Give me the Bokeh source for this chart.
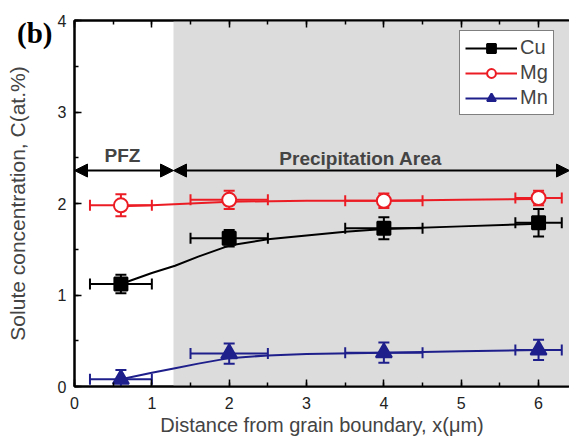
from bokeh.plotting import figure
from bokeh.models import (ColumnDataSource, Whisker, TeeHead, BoxAnnotation, Arrow,
                          NormalHead, Label, LinearAxis, SingleIntervalTicker, Legend,
                          LegendItem, Range1d, Div)
from bokeh.layouts import column
from bokeh.embed import file_html
from bokeh.resources import INLINE

# ---- data ----
x_pos = [0.6, 2.0, 4.0, 6.0]
x_err = [0.4, 0.5, 0.5, 0.3]
cu_y = [1.12, 1.62, 1.73, 1.79]
cu_err = [0.10, 0.09, 0.12, 0.15]
mg_y = [1.98, 2.04, 2.03, 2.06]
mg_err = [0.12, 0.10, 0.08, 0.08]
mn_y = [0.08, 0.36, 0.37, 0.40]
mn_err = [0.10, 0.11, 0.11, 0.11]

cu_fit_x = [0.6, 0.8, 1.0, 1.3, 1.6, 2.0, 2.5, 3.0, 3.5, 4.0, 5.0, 6.0]
cu_fit_y = [1.12, 1.18, 1.24, 1.32, 1.42, 1.54, 1.61, 1.65, 1.69, 1.72, 1.75, 1.78]
mg_fit_x = [0.6, 1.0, 1.5, 2.0, 3.0, 4.0, 5.0, 6.0]
mg_fit_y = [1.97, 1.98, 2.00, 2.02, 2.03, 2.03, 2.04, 2.05]
mn_fit_x = [0.6, 1.0, 1.3, 1.6, 2.0, 2.5, 3.0, 4.0, 5.0, 6.0]
mn_fit_y = [0.08, 0.15, 0.20, 0.25, 0.31, 0.34, 0.355, 0.37, 0.385, 0.40]

pfz_end = 1.28
x_max = 6.4
arrow_y = 2.36

FONT = "Liberation Sans"
BLACK = "#000000"
RED = "#ec1c24"
BLUE = "#1f1f8c"

p = figure(width=569, height=441, output_backend="svg", toolbar_location=None,
           x_range=Range1d(0, x_max), y_range=Range1d(0, 4),
           min_border_left=74, min_border_right=0, min_border_top=20,
           min_border_bottom=55, x_axis_location=None, y_axis_location=None)
p.grid.visible = False
p.outline_line_color = BLACK
p.outline_line_width = 2
p.background_fill_color = "white"

def style_axis(ax, labels=True):
    ax.axis_line_width = 2
    ax.axis_line_color = BLACK
    ax.major_tick_in = 7
    ax.major_tick_out = 0
    ax.minor_tick_in = 4
    ax.minor_tick_out = 0
    ax.major_tick_line_width = 1.5
    ax.minor_tick_line_width = 1.5
    ax.major_label_text_font = FONT
    ax.major_label_text_font_size = "16px"
    ax.major_label_text_color = "#222222"
    ax.axis_label_text_font = FONT
    ax.axis_label_text_font_style = "normal"
    ax.axis_label_text_font_size = "20px"
    if not labels:
        ax.major_label_text_font_size = "0px"
        ax.major_label_text_alpha = 0
        ax.major_label_standoff = 0

xb = LinearAxis(ticker=SingleIntervalTicker(interval=1, num_minor_ticks=2),
                axis_label="Distance from grain boundary, x(\u03bcm)")
style_axis(xb)
xb.major_label_standoff = 10
xb.axis_label_standoff = 2
p.add_layout(xb, "below")

xa = LinearAxis(ticker=SingleIntervalTicker(interval=1, num_minor_ticks=2))
style_axis(xa, labels=False)
p.add_layout(xa, "above")

yl = LinearAxis(ticker=SingleIntervalTicker(interval=1, num_minor_ticks=2),
                axis_label="Solute concentration, C(at.%)")
style_axis(yl)
yl.axis_label_text_font_size = "21px"
yl.major_label_standoff = 8
yl.axis_label_standoff = 26
p.add_layout(yl, "left")

# precipitation area shading
p.add_layout(BoxAnnotation(left=pfz_end, fill_color="#dcdcdc", fill_alpha=1.0,
                           line_alpha=0, level="image"))

# arrows
for xs, xe in [(0, pfz_end), (pfz_end, x_max)]:
    p.add_layout(Arrow(start=NormalHead(size=13, fill_color=BLACK, line_color=BLACK),
                       end=NormalHead(size=13, fill_color=BLACK, line_color=BLACK),
                       x_start=xs, y_start=arrow_y, x_end=xe, y_end=arrow_y,
                       line_width=2, line_color=BLACK))

p.add_layout(Label(x=0.62, y=2.52, text="PFZ", text_font=FONT, text_font_style="bold",
                   text_font_size="19px", text_align="center", text_baseline="middle"))
p.add_layout(Label(x=3.7, y=2.49, text="Precipitation Area", text_font=FONT,
                   text_font_style="bold", text_font_size="19px", text_align="center",
                   text_baseline="middle"))

series = [
    ("Cu", cu_fit_x, cu_fit_y, cu_y, cu_err, BLACK, "square", BLACK, 13),
    ("Mg", mg_fit_x, mg_fit_y, mg_y, mg_err, RED, "circle", "white", 14),
    ("Mn", mn_fit_x, mn_fit_y, mn_y, mn_err, BLUE, "triangle", BLUE, 16),
]

items = []
for name, fx, fy, ys, es, col, mk, fill, sz in series:
    src = ColumnDataSource(dict(
        x=x_pos, y=ys,
        yl=[a - b for a, b in zip(ys, es)], yu=[a + b for a, b in zip(ys, es)],
        xl=[a - b for a, b in zip(x_pos, x_err)], xu=[a + b for a, b in zip(x_pos, x_err)],
    ))
    p.add_layout(Whisker(source=src, base="x", lower="yl", upper="yu", dimension="height",
                         line_color=col, line_width=2, level="underlay",
                         upper_head=TeeHead(size=11, line_color=col, line_width=2),
                         lower_head=TeeHead(size=11, line_color=col, line_width=2)))
    p.add_layout(Whisker(source=src, base="y", lower="xl", upper="xu", dimension="width",
                         line_color=col, line_width=2, level="underlay",
                         upper_head=TeeHead(size=11, line_color=col, line_width=2),
                         lower_head=TeeHead(size=11, line_color=col, line_width=2)))
    ln = p.line(fx, fy, line_color=col, line_width=2)
    sc = p.scatter("x", "y", source=src, marker=mk, size=sz, line_color=col,
                   fill_color=fill, line_width=2)
    items.append(LegendItem(label=name, renderers=[ln, sc]))

legend = Legend(items=items, location=(385, 271), orientation="vertical")
legend.label_text_font = FONT
legend.label_text_font_size = "20px"
legend.glyph_width = 52
legend.glyph_height = 22
legend.spacing = 2
legend.padding = 5
legend.margin = 0
legend.label_standoff = 3
legend.border_line_color = BLACK
legend.border_line_width = 1.5
legend.background_fill_alpha = 1.0
p.add_layout(legend, "center")

panel_tag = Div(text="(b)", width=50, height=30,
                styles={"position": "absolute", "left": "12px", "top": "14px",
                        "z-index": "10", "font-family": "Liberation Serif",
                        "font-weight": "bold", "font-size": "29px", "line-height": "1",
                        "color": "#000000"})

layout = column(p, panel_tag)
open("out.html", "w").write(file_html(layout, INLINE))
